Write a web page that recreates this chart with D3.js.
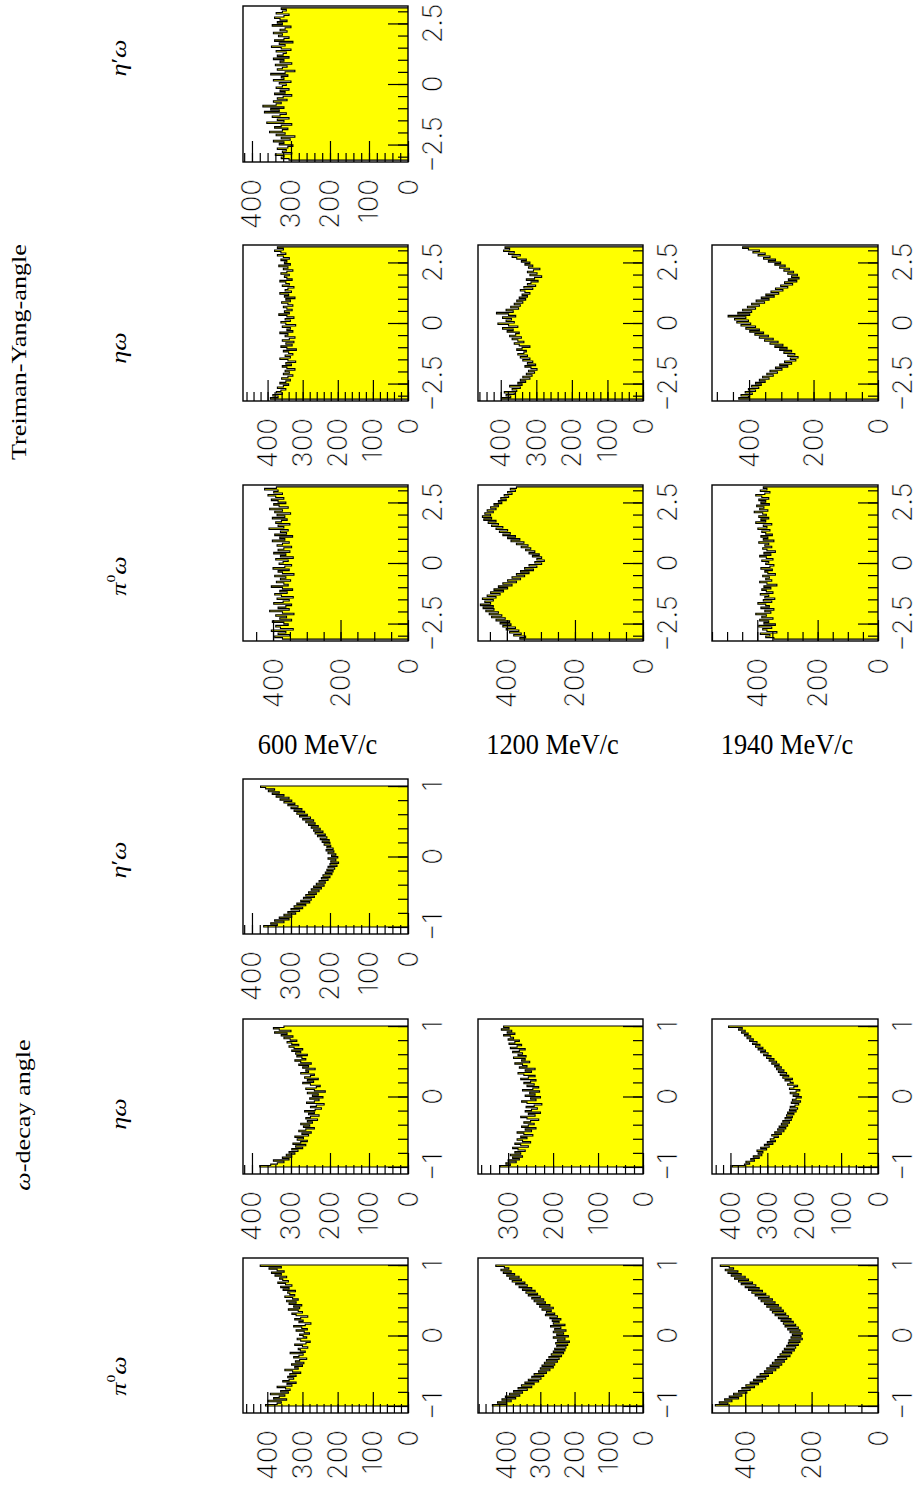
<!DOCTYPE html>
<html>
<head>
<meta charset="utf-8">
<script src="https://cdn.jsdelivr.net/npm/d3@7/dist/d3.min.js"></script>
<style>
  body { margin: 0; background: #fff; }
  svg { display: block; }
</style>
</head>
<body>
<svg id="chart" width="918" height="1489"></svg>
<script>
// ---- data: counts per bin, 100 bins ----
// omega-decay angle, cos theta from -1 to 1
const decayPi600 = [405, 372, 360, 398, 345, 382, 366, 350, 391, 340, 362, 335, 348, 372, 330, 344, 318, 356, 338, 325,
  342, 318, 336, 305, 328, 350, 312, 322, 300, 331, 296, 320, 308, 288, 325, 310, 298, 335, 292, 306,
  312, 285, 300, 322, 290, 278, 305, 315, 288, 298, 308, 280, 295, 318, 286, 302, 325, 292, 276, 310,
  298, 322, 305, 285, 318, 330, 300, 312, 340, 308, 325, 302, 338, 318, 345, 312, 328, 350, 322, 336,
  342, 320, 355, 338, 362, 330, 348, 370, 340, 356, 365, 345, 378, 360, 388, 352, 372, 395, 360, 420];
const decayEta600 = [380, 352, 335, 318, 345, 305, 322, 298, 312, 290, 305, 282, 298, 270, 288, 262, 295, 275, 258, 284,
  268, 290, 255, 272, 248, 280, 262, 240, 268, 252, 275, 245, 258, 232, 262, 250, 228, 255, 240, 265,
  238, 222, 250, 235, 215, 260, 240, 228, 252, 218, 245, 230, 258, 212, 240, 262, 235, 225, 250, 270,
  242, 258, 230, 265, 250, 240, 275, 255, 262, 238, 270, 255, 280, 248, 275, 290, 262, 272, 285, 258,
  288, 275, 298, 270, 292, 305, 280, 298, 310, 285, 302, 318, 295, 325, 310, 342, 300, 330, 345, 318];
const decayEtaP600 = [370, 335, 352, 318, 342, 305, 330, 298, 318, 288, 308, 278, 300, 270, 292, 262, 285, 252, 275, 248,
  268, 240, 262, 235, 255, 228, 248, 222, 242, 215, 235, 212, 228, 205, 222, 200, 218, 195, 212, 192,
  208, 188, 205, 182, 200, 178, 198, 185, 205, 180, 196, 185, 205, 190, 210, 192, 208, 198, 215, 200,
  220, 202, 225, 208, 232, 212, 238, 218, 242, 225, 248, 230, 255, 238, 262, 242, 270, 250, 278, 258,
  285, 265, 292, 272, 300, 282, 308, 290, 318, 298, 328, 305, 338, 318, 348, 330, 358, 342, 365, 378];
const decayPi1200 = [440, 398, 425, 385, 412, 372, 402, 360, 390, 352, 378, 338, 365, 325, 355, 318, 345, 305, 335, 298,
  325, 290, 318, 282, 305, 272, 300, 262, 295, 258, 288, 250, 282, 245, 275, 238, 268, 232, 262, 228,
  258, 225, 252, 220, 255, 215, 250, 228, 262, 218, 252, 232, 262, 225, 258, 240, 270, 228, 262, 245,
  265, 240, 272, 250, 285, 258, 282, 268, 295, 262, 302, 272, 310, 285, 318, 290, 325, 300, 335, 308,
  342, 315, 352, 325, 362, 338, 372, 345, 382, 355, 390, 362, 398, 375, 408, 385, 415, 392, 405, 430];
const decayEta1200 = [318, 295, 305, 282, 300, 275, 290, 268, 295, 272, 285, 262, 278, 290, 255, 272, 285, 250, 268, 280,
  258, 272, 245, 265, 280, 248, 262, 238, 270, 255, 242, 265, 250, 232, 258, 272, 240, 255, 228, 262,
  248, 235, 260, 242, 225, 258, 270, 238, 250, 228, 262, 240, 252, 230, 268, 245, 232, 258, 242, 265,
  250, 238, 272, 255, 240, 265, 278, 248, 262, 240, 275, 258, 268, 285, 252, 270, 262, 288, 260, 278,
  268, 290, 275, 262, 295, 280, 270, 298, 285, 275, 300, 288, 295, 310, 285, 302, 292, 315, 298, 310];
const decayPi1940 = [490, 452, 478, 440, 462, 420, 448, 410, 435, 395, 420, 385, 410, 372, 398, 360, 385, 348, 375, 338,
  365, 330, 355, 318, 342, 308, 335, 298, 325, 290, 318, 282, 310, 275, 302, 265, 295, 260, 288, 252,
  282, 248, 275, 240, 270, 235, 268, 228, 262, 232, 258, 228, 265, 235, 272, 240, 280, 248, 285, 255,
  292, 262, 300, 270, 310, 278, 318, 285, 325, 292, 335, 300, 342, 310, 352, 318, 360, 328, 370, 338,
  380, 348, 390, 358, 400, 368, 412, 378, 420, 390, 432, 400, 442, 412, 452, 422, 460, 435, 448, 475];
const decayEta1940 = [395, 362, 348, 358, 335, 345, 322, 338, 315, 325, 312, 328, 302, 318, 295, 308, 285, 300, 278, 292,
  282, 270, 288, 262, 280, 255, 272, 250, 268, 245, 262, 240, 258, 235, 252, 232, 248, 228, 245, 222,
  240, 218, 238, 225, 215, 235, 210, 232, 222, 208, 230, 215, 238, 222, 212, 240, 228, 218, 245, 230,
  238, 252, 232, 258, 242, 265, 248, 270, 255, 275, 262, 280, 268, 288, 275, 295, 282, 302, 290, 310,
  298, 318, 305, 325, 312, 332, 320, 340, 328, 348, 338, 355, 345, 362, 352, 370, 360, 378, 368, 405];
// Treiman-Yang angle, from -pi to pi
const tyPi600 = [372, 395, 350, 385, 362, 405, 340, 378, 392, 355, 368, 402, 345, 380, 360, 392, 338, 372, 410, 352,
  385, 362, 345, 398, 370, 352, 388, 340, 375, 395, 358, 380, 342, 372, 405, 355, 368, 390, 348, 378,
  362, 395, 338, 372, 385, 352, 400, 365, 345, 382, 370, 355, 392, 340, 378, 362, 398, 350, 385, 368,
  345, 388, 372, 352, 402, 365, 380, 342, 395, 360, 378, 355, 412, 368, 385, 350, 392, 375, 358, 402,
  365, 388, 348, 395, 372, 410, 355, 382, 398, 362, 385, 405, 368, 392, 415, 372, 398, 385, 425, 390];
const tyEta600 = [392, 370, 385, 358, 375, 362, 348, 372, 355, 340, 365, 348, 335, 360, 342, 328, 355, 338, 350, 322,
  345, 358, 332, 348, 320, 342, 365, 335, 350, 328, 340, 355, 318, 345, 362, 330, 348, 325, 358, 338,
  322, 350, 342, 365, 328, 345, 335, 358, 320, 348, 362, 335, 350, 325, 345, 368, 338, 352, 330, 345,
  355, 328, 342, 360, 335, 348, 322, 352, 340, 365, 332, 350, 342, 325, 358, 338, 348, 365, 330, 345,
  352, 338, 362, 345, 328, 355, 342, 368, 335, 352, 345, 362, 338, 355, 372, 348, 362, 380, 355, 372];
const tyEtaP600 = [305, 325, 318, 340, 298, 322, 312, 335, 308, 295, 330, 318, 345, 302, 325, 290, 338, 315, 355, 322,
  308, 342, 325, 298, 362, 318, 335, 305, 348, 328, 312, 368, 330, 352, 318, 372, 338, 325, 345, 310,
  335, 320, 298, 342, 315, 328, 305, 338, 322, 312, 330, 300, 345, 318, 325, 308, 352, 315, 290, 335,
  322, 310, 340, 298, 328, 318, 345, 305, 335, 320, 312, 338, 300, 325, 350, 315, 330, 295, 342, 318,
  305, 332, 322, 345, 310, 328, 315, 300, 348, 322, 335, 310, 328, 342, 318, 305, 338, 322, 312, 325];
const tyPi1200 = [362, 345, 380, 358, 392, 365, 402, 375, 412, 388, 420, 392, 432, 405, 445, 415, 452, 425, 462, 438,
  470, 440, 478, 448, 465, 440, 472, 432, 458, 420, 448, 410, 438, 398, 425, 385, 412, 372, 398, 360,
  385, 348, 372, 335, 360, 322, 348, 312, 335, 298, 318, 290, 312, 298, 325, 305, 335, 318, 345, 330,
  358, 338, 372, 350, 388, 362, 398, 375, 412, 390, 422, 398, 432, 412, 445, 425, 455, 432, 468, 445,
  472, 448, 465, 440, 458, 432, 448, 425, 438, 415, 425, 402, 418, 395, 408, 385, 398, 375, 390, 372];
const tyEta1200 = [398, 372, 385, 362, 390, 355, 368, 345, 375, 340, 352, 330, 345, 318, 338, 312, 328, 305, 322, 298,
  315, 332, 302, 325, 310, 338, 318, 345, 325, 352, 335, 328, 355, 340, 318, 348, 362, 335, 352, 368,
  342, 375, 358, 348, 382, 365, 395, 352, 378, 408, 362, 385, 370, 395, 358, 378, 412, 365, 385, 350,
  372, 345, 362, 338, 355, 330, 348, 325, 340, 318, 332, 345, 310, 335, 302, 325, 315, 295, 328, 305,
  285, 318, 298, 325, 308, 290, 322, 310, 332, 318, 342, 328, 355, 368, 345, 378, 362, 392, 375, 388];
const tyPi1940 = [345, 372, 358, 390, 335, 368, 382, 352, 395, 340, 378, 362, 392, 348, 385, 370, 405, 355, 375, 345,
  388, 360, 372, 398, 352, 380, 342, 375, 362, 390, 348, 370, 385, 355, 378, 335, 368, 392, 352, 372,
  360, 382, 340, 365, 375, 350, 388, 358, 345, 372, 362, 385, 348, 370, 392, 355, 378, 340, 368, 382,
  352, 375, 362, 395, 345, 380, 365, 388, 350, 372, 385, 358, 398, 368, 380, 352, 405, 372, 388, 362,
  395, 370, 382, 410, 365, 392, 378, 402, 360, 388, 372, 395, 362, 385, 405, 375, 358, 390, 368, 380];
const tyEta1940 = [432, 402, 425, 390, 412, 380, 402, 370, 392, 362, 380, 350, 368, 338, 358, 325, 345, 312, 335, 298,
  318, 280, 305, 268, 290, 255, 272, 248, 280, 258, 292, 268, 305, 282, 320, 295, 335, 310, 352, 325,
  368, 340, 382, 355, 398, 368, 410, 380, 425, 395, 438, 402, 445, 410, 465, 398, 435, 392, 420, 380,
  405, 368, 392, 352, 378, 338, 362, 322, 348, 308, 332, 295, 318, 280, 302, 265, 290, 252, 278, 245,
  268, 250, 280, 262, 292, 275, 305, 288, 320, 302, 340, 318, 355, 335, 372, 350, 388, 368, 402, 420];

const momenta = ['600 MeV/c', '1200 MeV/c', '1940 MeV/c'];

// ---- layout (page is printed rotated by 90 degrees) ----
const cfg = {
  fill: '#ffff00',
  line: '#000',
  tickFont: 'Inter, "DejaVu Sans", sans-serif',
  textFont: '"Liberation Serif", "DejaVu Serif", serif',
  rowX: [[243, 408], [478, 643], [712, 878]],
  colY: {
    wPi: [1258, 1413], wEta: [1019, 1174], wEtaP: [779, 934],
    tPi: [485, 641], tEta: [245, 401], tEtaP: [6, 162]
  },
  // centre of the column headings along the page
  headY: { wPi: 1376, wEta: 1114, wEtaP: 860, tPi: 576, tEta: 348, tEtaP: 58 }
};

const signed = v => v === 0 ? '0' : (v < 0 ? '\u2212' : '') + Math.abs(v);
const kinds = {
  decay: { frame: [-1.1, 1.1], range: [-1, 1], major: [-1, 0, 1], minor: d3.range(-1, 1.01, 0.2) },
  ty: { frame: [-3.22, 3.22], range: [-Math.PI, Math.PI], major: [-2.5, 0, 2.5], minor: d3.range(-3, 3.01, 0.5) }
};

const panels = [
  { col: 'wPi', row: 0, kind: 'decay', data: decayPi600, ymax: 469, step: 100, sub: 20 },
  { col: 'wEta', row: 0, kind: 'decay', data: decayEta600, ymax: 423, step: 100, sub: 20 },
  { col: 'wEtaP', row: 0, kind: 'decay', data: decayEtaP600, ymax: 423, step: 100, sub: 20 },
  { col: 'wPi', row: 1, kind: 'decay', data: decayPi1200, ymax: 482, step: 100, sub: 20 },
  { col: 'wEta', row: 1, kind: 'decay', data: decayEta1200, ymax: 367, step: 100, sub: 20 },
  { col: 'wPi', row: 2, kind: 'decay', data: decayPi1940, ymax: 500, step: 200, sub: 50 },
  { col: 'wEta', row: 2, kind: 'decay', data: decayEta1940, ymax: 450, step: 100, sub: 20 },
  { col: 'tPi', row: 0, kind: 'ty', data: tyPi600, ymax: 489, step: 200, sub: 50 },
  { col: 'tEta', row: 0, kind: 'ty', data: tyEta600, ymax: 470, step: 100, sub: 20 },
  { col: 'tEtaP', row: 0, kind: 'ty', data: tyEtaP600, ymax: 423, step: 100, sub: 20 },
  { col: 'tPi', row: 1, kind: 'ty', data: tyPi1200, ymax: 485, step: 200, sub: 50 },
  { col: 'tEta', row: 1, kind: 'ty', data: tyEta1200, ymax: 464, step: 100, sub: 20 },
  { col: 'tPi', row: 2, kind: 'ty', data: tyPi1940, ymax: 550, step: 200, sub: 50 },
  { col: 'tEta', row: 2, kind: 'ty', data: tyEta1940, ymax: 515, step: 200, sub: 50 }
];

const svg = d3.select('#chart');

// thin "stroke font" look for the tick numbers
const tickText = sel => sel
  .style('font-family', cfg.tickFont)
  .style('font-weight', 300)
  .style('font-size', '27px')
  .attr('fill', '#000')
  .attr('stroke', '#fff')
  .attr('stroke-width', 0.5);

panels.forEach(p => {
  const k = kinds[p.kind];
  const [xL, xR] = cfg.rowX[p.row];
  const [yT, yB] = cfg.colY[p.col];

  // angle runs up the page, counts run to the left
  const a = d3.scaleLinear().domain(k.frame).range([yB, yT]);
  const c = d3.scaleLinear().domain([0, p.ymax]).range([xR, xL]);

  const g = svg.append('g');

  // histogram outline: steps along the angle axis
  const edges = d3.range(p.data.length + 1).map(i => k.range[0] + (k.range[1] - k.range[0]) * i / p.data.length);
  const pts = [[c(0), a(edges[0])]];
  p.data.forEach((v, i) => {
    pts.push([c(v), a(edges[i])]);
    pts.push([c(v), a(edges[i + 1])]);
  });
  pts.push([c(0), a(edges[edges.length - 1])]);

  g.append('path')
    .attr('d', d3.line()(pts) + 'Z')
    .attr('fill', cfg.fill)
    .attr('stroke', 'none');
  g.append('path')
    .attr('d', d3.line()(pts))
    .attr('fill', 'none')
    .attr('stroke', cfg.line)
    .attr('stroke-width', 1.1);

  // angle axis ticks (inside the frame, from the zero-count side)
  const angAxis = (vals, size) => g.append('g')
    .attr('transform', `translate(${xR},0)`)
    .call(d3.axisLeft(a).tickValues(vals).tickSize(size).tickFormat(''))
    .call(s => s.select('.domain').remove())
    .call(s => s.selectAll('line').attr('stroke', '#000').attr('stroke-width', 1.2));
  angAxis(k.minor, 10);
  angAxis(k.major, 20);

  // count axis ticks
  const minorC = d3.range(0, p.ymax + 0.1, p.sub);
  const majorC = d3.range(0, p.ymax + 0.1, p.step);
  const cntAxis = (vals, size) => g.append('g')
    .attr('transform', `translate(0,${yB})`)
    .call(d3.axisTop(c).tickValues(vals).tickSize(size).tickFormat(''))
    .call(s => s.select('.domain').remove())
    .call(s => s.selectAll('line').attr('stroke', '#000').attr('stroke-width', 1.2));
  cntAxis(minorC, 9);
  cntAxis(majorC, 21);

  // frame
  g.append('rect')
    .attr('x', xL).attr('y', yT)
    .attr('width', xR - xL).attr('height', yB - yT)
    .attr('fill', 'none').attr('stroke', '#000').attr('stroke-width', 1.4);

  // tick labels
  g.selectAll('.alab')
    .data(k.major)
    .join('text')
    .attr('transform', d => `translate(${xR + 24},${a(d)}) rotate(-90)`)
    .attr('text-anchor', 'middle')
    .attr('dominant-baseline', 'central')
    .call(tickText)
    .text(signed);

  g.selectAll('.clab')
    .data(majorC)
    .join('text')
    .attr('transform', d => `translate(${c(d)},${yB + 17}) rotate(-90)`)
    .attr('text-anchor', 'end')
    .attr('dominant-baseline', 'central')
    .call(tickText)
    .text(d3.format('d'));
});

// ---- titles ----
const serif = sel => sel.style('font-family', cfg.textFont).style('font-size', '22px').attr('fill', '#000');

const rotText = (x, y, parts) => {
  const t = svg.append('text')
    .attr('transform', `translate(${x},${y}) rotate(-90) scale(1.19,1)`)
    .attr('text-anchor', 'middle')
    .attr('dominant-baseline', 'central')
    .call(serif);
  parts.forEach(pt => {
    const s = t.append('tspan').text(pt.t);
    if (pt.i) s.style('font-style', 'italic');
    if (pt.sup) s.attr('baseline-shift', 'super').style('font-size', '13px');
  });
};

rotText(22, 1115, [{ t: '\u03c9', i: true }, { t: '-decay angle' }]);
rotText(18, 352, [{ t: 'Treiman-Yang-angle' }]);

const heads = [
  ['wPi', [{ t: '\u03c0', i: true }, { t: '0', sup: true }, { t: '\u03c9', i: true }]],
  ['wEta', [{ t: '\u03b7\u03c9', i: true }]],
  ['wEtaP', [{ t: '\u03b7', i: true }, { t: '\u2032' }, { t: '\u03c9', i: true }]],
  ['tPi', [{ t: '\u03c0', i: true }, { t: '0', sup: true }, { t: '\u03c9', i: true }]],
  ['tEta', [{ t: '\u03b7\u03c9', i: true }]],
  ['tEtaP', [{ t: '\u03b7', i: true }, { t: '\u2032' }, { t: '\u03c9', i: true }]]
];
heads.forEach(([col, parts]) => rotText(118, cfg.headY[col], parts));

// momentum labels between the two halves
svg.selectAll('.mom')
  .data(momenta)
  .join('text')
  .attr('transform', (d, i) => `translate(${(cfg.rowX[i][0] + cfg.rowX[i][1]) / 2 - 8},754) scale(1.2,1.35)`)
  .attr('text-anchor', 'middle')
  .call(serif)
  .text(d => d);
</script>
</body>
</html>
